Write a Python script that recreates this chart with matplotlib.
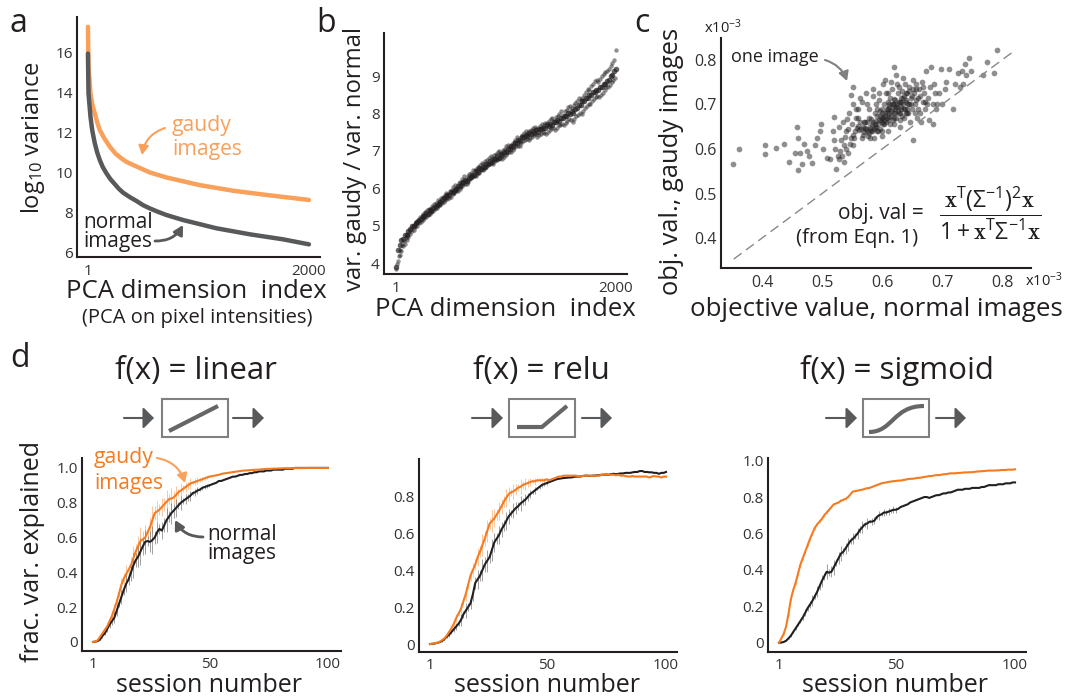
"""
Four panel figure: PCA variance curves, variance ratio, objective values
and fraction of variance explained per session.
"""
import numpy as np
import matplotlib
matplotlib.use("Agg")
import matplotlib.pyplot as plt
from matplotlib.path import Path
from matplotlib.patches import PathPatch, Rectangle

plt.rcParams['font.family'] = ['Open Sans', 'DejaVu Sans']
plt.rcParams['mathtext.default'] = 'regular'

W, H = 1065, 698
ORANGE = '#F47B20'
LIGHT_ORANGE = '#F9A05A'
DARK = '#231F20'
GRAY = '#58595B'
TEXT = '#333333'

# panel a
a_index = [1, 6, 24, 40, 63, 85, 108, 150, 199, 250, 304, 355, 410, 561, 711, 1012, 1314, 1615, 2000]
a_gaudy = [17.26, 15.27, 13.94, 13.4, 12.95, 12.5, 12.12, 11.7, 11.29, 10.95, 10.71, 10.52, 10.38,
           10.01, 9.76, 9.38, 9.10, 8.89, 8.64]
a_norm_index = [1, 6, 24, 40, 63, 85, 108, 135, 169, 205, 245, 280, 320, 380, 440, 500, 561, 630, 711,
                862, 1163, 1465, 1766, 2000]
a_normal = [15.93, 13.94, 12.78, 12.1, 11.46, 11.0, 10.63, 10.28, 9.96, 9.67, 9.42, 9.2, 9.0, 8.78, 8.59,
            8.38, 8.22, 8.06, 7.89, 7.64, 7.23, 6.93, 6.68, 6.43]

# panel b
b_ratio = [
    3.85, 3.98, 4.05, 4.18, 4.22, 4.35, 4.33, 4.48, 4.45, 4.58,
    4.52, 4.68, 4.62, 4.74, 4.70, 4.84, 4.78, 4.90, 4.86, 4.98,
    4.88, 5.05, 4.96, 5.10, 5.00, 5.16, 5.06, 5.22, 5.10, 5.24,
    5.14, 5.32, 5.20, 5.36, 5.24, 5.42, 5.28, 5.46, 5.32, 5.44,
    5.36, 5.54, 5.40, 5.58, 5.44, 5.62, 5.48, 5.68, 5.52, 5.64,
    5.56, 5.74, 5.60, 5.78, 5.64, 5.82, 5.68, 5.88, 5.72, 5.84,
    5.74, 5.92, 5.78, 5.96, 5.84, 6.04, 5.88, 6.08, 5.92, 6.02,
    5.94, 6.14, 5.98, 6.18, 6.04, 6.24, 6.08, 6.32, 6.12, 6.22,
    6.12, 6.32, 6.18, 6.38, 6.24, 6.42, 6.30, 6.48, 6.34, 6.46,
    6.32, 6.52, 6.38, 6.58, 6.42, 6.62, 6.48, 6.68, 6.50, 6.66,
    6.52, 6.72, 6.56, 6.76, 6.62, 6.82, 6.66, 6.86, 6.68, 6.80,
    6.66, 6.88, 6.72, 6.92, 6.76, 6.96, 6.78, 7.00, 6.82, 6.94,
    6.78, 7.02, 6.84, 7.06, 6.90, 7.12, 6.94, 7.16, 6.96, 7.10,
    6.96, 7.18, 7.02, 7.24, 7.08, 7.30, 7.12, 7.36, 7.14, 7.28,
    7.14, 7.38, 7.20, 7.42, 7.26, 7.48, 7.28, 7.54, 7.32, 7.46,
    7.30, 7.54, 7.34, 7.56, 7.38, 7.60, 7.42, 7.64, 7.44, 7.58,
    7.38, 7.62, 7.42, 7.66, 7.46, 7.72, 7.50, 7.68, 7.48, 7.74,
    7.46, 7.74, 7.50, 7.80, 7.56, 7.84, 7.60, 7.88, 7.62, 7.80,
    7.56, 7.90, 7.62, 7.94, 7.68, 7.98, 7.70, 8.06, 7.72, 7.96,
    7.68, 8.06, 7.74, 8.10, 7.80, 8.16, 7.84, 8.20, 7.82, 8.14,
    7.78, 8.22, 7.86, 8.28, 7.92, 8.34, 7.96, 8.40, 8.02, 8.36,
    7.98, 8.42, 8.06, 8.50, 8.14, 8.58, 8.20, 8.66, 8.26, 8.62,
    8.26, 8.74, 8.34, 8.80, 8.38, 8.86, 8.44, 8.90, 8.46, 8.84,
    8.44, 8.92, 8.50, 9.00, 8.56, 9.06, 8.64, 9.12, 8.70, 9.14,
    8.70, 9.18, 8.76, 9.26, 8.84, 9.34, 8.90, 9.42, 8.94, 9.70,
]
# the darker core of the band, one point every 16 dimensions
b_core = [
    3.90, 4.34, 4.48, 4.62, 4.64, 4.74, 4.76, 4.86, 4.90, 4.98,
    4.98, 5.08, 5.10, 5.16, 5.18, 5.26, 5.26, 5.34, 5.32, 5.42,
    5.40, 5.48, 5.50, 5.56, 5.58, 5.64, 5.68, 5.74, 5.76, 5.82,
    5.82, 5.90, 5.90, 5.96, 5.98, 6.06, 6.06, 6.14, 6.16, 6.22,
    6.20, 6.28, 6.30, 6.36, 6.36, 6.46, 6.44, 6.54, 6.52, 6.58,
    6.58, 6.64, 6.64, 6.72, 6.70, 6.78, 6.78, 6.86, 6.82, 6.92,
    6.88, 6.98, 6.98, 7.06, 7.06, 7.14, 7.14, 7.20, 7.20, 7.28,
    7.26, 7.36, 7.36, 7.42, 7.40, 7.48, 7.46, 7.52, 7.48, 7.56,
    7.50, 7.58, 7.58, 7.62, 7.62, 7.68, 7.66, 7.72, 7.70, 7.78,
    7.76, 7.82, 7.80, 7.88, 7.88, 7.94, 7.94, 8.00, 7.98, 8.06,
    8.02, 8.12, 8.14, 8.22, 8.22, 8.32, 8.34, 8.42, 8.40, 8.50,
    8.48, 8.58, 8.58, 8.64, 8.64, 8.72, 8.72, 8.80, 8.80, 8.88,
    8.90, 9.00, 9.04, 9.14, 9.20,
]

# panel c
c_normal = [
    .352, .362, .405, .405, .423, .437, .445, .455, .458, .460,
    .460, .463, .466, .470, .475, .478, .483, .488, .492, .497,
    .498, .502, .508, .514, .518, .520, .522, .524, .526, .528,
    .530, .532, .534, .536, .538, .540, .542, .544, .546, .548,
    .550, .551, .552, .554, .556, .558, .560, .562, .564, .566,
    .566, .568, .570, .572, .573, .574, .576, .578, .579, .580,
    .582, .582, .584, .585, .586, .588, .588, .590, .590, .592,
    .592, .594, .595, .596, .597, .598, .600, .600, .601, .602,
    .603, .604, .605, .606, .607, .608, .609, .610, .610, .612,
    .612, .613, .614, .615, .616, .617, .618, .618, .620, .620,
    .621, .622, .623, .624, .625, .626, .627, .628, .629, .630,
    .631, .632, .633, .634, .635, .636, .637, .638, .639, .640,
    .641, .642, .644, .645, .646, .648, .650, .651, .652, .654,
    .655, .656, .658, .660, .662, .664, .666, .668, .670, .672,
    .674, .676, .678, .680, .682, .684, .686, .688, .690, .692,
    .694, .698, .700, .704, .706, .712, .718, .722, .727, .730,
    .733, .735, .738, .740, .745, .748, .768, .775, .786, .792,
    .575, .580, .585, .590, .595, .600, .605, .610, .615, .620,
    .625, .630, .635, .640, .645, .650, .600, .610, .620, .630,
    .570, .578, .586, .594, .602, .612, .622, .632, .642, .656,
    .555, .560, .565, .568, .572, .575, .580, .584, .588, .592,
    .596, .600, .604, .608, .612, .616, .620, .624, .628, .632,
    .636, .640, .644, .648, .652, .656, .660, .664, .668, .672,
    .535, .540, .545, .548, .552, .556, .560, .564, .575, .585,
    .595, .605, .615, .625, .635, .645, .655, .665, .675, .685,
    .520, .528, .536, .544, .552, .600, .610, .620, .630, .640,
]
c_gaudy = [
    .566, .600, .588, .610, .603, .612, .570, .592, .650, .552,
    .625, .590, .566, .612, .595, .585, .568, .610, .625, .640,
    .655, .600, .580, .578, .640, .672, .600, .555, .585, .578,
    .595, .620, .585, .610, .628, .640, .668, .645, .612, .722,
    .655, .740, .632, .625, .670, .648, .690, .642, .660, .705,
    .625, .650, .638, .660, .725, .645, .630, .670, .690, .650,
    .640, .668, .655, .735, .625, .680, .650, .662, .700, .640,
    .675, .655, .710, .685, .645, .665, .690, .630, .745, .672,
    .655, .700, .680, .660, .725, .690, .670, .640, .705, .680,
    .695, .655, .715, .675, .690, .735, .665, .700, .680, .785,
    .710, .690, .765, .670, .700, .725, .685, .740, .705, .650,
    .690, .715, .675, .730, .700, .670, .720, .690, .745, .710,
    .680, .725, .700, .740, .660, .715, .690, .755, .620, .725,
    .700, .745, .670, .715, .735, .680, .750, .705, .725, .690,
    .775, .715, .665, .740, .785, .700, .745, .725, .690, .700,
    .725, .780, .700, .735, .750, .780, .690, .745, .770, .740,
    .775, .745, .790, .765, .805, .775, .765, .795, .770, .823,
    .640, .645, .660, .650, .665, .670, .675, .690, .685, .700,
    .695, .705, .715, .705, .700, .720, .680, .665, .670, .680,
    .660, .635, .645, .640, .655, .700, .680, .695, .690, .735,
    .640, .652, .645, .632, .648, .660, .625, .640, .655, .690,
    .675, .660, .665, .682, .672, .700, .712, .695, .680, .705,
    .690, .725, .680, .700, .735, .710, .690, .720, .740, .705,
    .660, .600, .680, .625, .610, .690, .670, .715, .700, .720,
    .725, .755, .750, .745, .760, .730, .680, .660, .700, .655,
    .620, .650, .570, .590, .700, .640, .725, .655, .665, .680,
]

# panel d
sessions = list(range(1, 101))
linear_normal = [
    0, .002, .005, .015, .035, .05, .075, .10, .12, .14,
    .18, .22, .26, .30, .335, .36, .40, .44, .47, .49,
    .52, .55, .575, .58, .575, .585, .60, .63, .65, .64,
    .67, .70, .72, .74, .755, .77, .785, .80, .81, .82,
    .83, .84, .855, .86, .87, .875, .885, .89, .895, .90,
    .905, .91, .915, .925, .925, .93, .935, .94, .945, .95,
    .95, .955, .96, .96, .965, .965, .97, .97, .975, .975,
    .98, .98, .98, .985, .985, .985, .99, .99, .99, .99,
    .99, .995, .995, .995, .995, 1, 1, 1, 1, 1,
    1, 1, 1, 1, 1, 1, 1, 1, 1, 1,
]
linear_gaudy = [
    0, .003, .01, .03, .05, .07, .09, .12, .15, .19,
    .23, .28, .33, .365, .39, .415, .44, .48, .52, .55,
    .58, .59, .60, .63, .66, .70, .74, .75, .76, .775,
    .79, .805, .82, .825, .83, .845, .86, .87, .88, .89,
    .90, .91, .915, .92, .925, .93, .935, .94, .945, .95,
    .952, .955, .958, .96, .965, .968, .97, .972, .974, .976,
    .978, .98, .982, .984, .985, .986, .987, .988, .989, .99,
    .99, .992, .993, .994, .995, .995, .996, .996, .997, .997,
    .998, .998, .998, .998, .999, .999, .999, .999, .999, .999,
    1, 1, 1, 1, 1, 1, 1, 1, 1, 1,
]
relu_normal = [
    0, .001, .003, .006, .01, .016, .026, .04, .05, .065,
    .08, .095, .11, .13, .16, .18, .20, .22, .27, .33,
    .35, .37, .40, .43, .45, .47, .51, .55, .57, .59,
    .62, .64, .665, .69, .705, .72, .735, .745, .76, .77,
    .78, .795, .81, .82, .83, .84, .85, .86, .865, .87,
    .875, .88, .885, .89, .893, .895, .897, .898, .90, .90,
    .902, .905, .905, .905, .908, .91, .91, .908, .91, .91,
    .912, .912, .915, .915, .916, .915, .918, .92, .918, .92,
    .922, .922, .925, .925, .925, .928, .93, .93, .935, .935,
    .93, .93, .928, .928, .925, .925, .92, .925, .925, .93,
]
relu_gaudy = [
    0, .002, .004, .007, .012, .02, .03, .045, .065, .085,
    .11, .14, .165, .19, .23, .27, .32, .37, .40, .43,
    .47, .50, .535, .57, .61, .65, .665, .68, .70, .72,
    .745, .77, .79, .81, .82, .825, .835, .845, .85, .86,
    .865, .87, .875, .88, .88, .885, .885, .885, .885, .89,
    .885, .89, .895, .90, .905, .905, .91, .91, .91, .91,
    .91, .91, .908, .905, .908, .91, .91, .91, .908, .91,
    .91, .91, .915, .915, .918, .915, .915, .915, .912, .915,
    .91, .91, .908, .905, .905, .908, .905, .905, .905, .905,
    .905, .905, .90, .905, .908, .905, .905, .90, .905, .905,
]
sigmoid_normal = [
    0, .002, .005, .012, .025, .04, .06, .08, .10, .12,
    .14, .165, .19, .21, .23, .255, .28, .31, .34, .365,
    .39, .385, .39, .415, .44, .465, .49, .50, .52, .54,
    .56, .57, .585, .60, .62, .635, .65, .655, .665, .665,
    .67, .69, .70, .705, .715, .715, .72, .725, .73, .73,
    .735, .745, .75, .755, .76, .77, .775, .78, .785, .79,
    .795, .80, .80, .795, .80, .805, .81, .81, .815, .82,
    .82, .825, .825, .83, .835, .84, .84, .84, .845, .845,
    .845, .85, .85, .85, .85, .855, .855, .86, .865, .865,
    .865, .865, .87, .87, .87, .875, .875, .875, .88, .88,
]
sigmoid_gaudy = [
    0, .025, .05, .09, .16, .24, .29, .33, .38, .43,
    .465, .50, .535, .57, .60, .63, .65, .665, .68, .70,
    .715, .73, .745, .76, .765, .77, .78, .785, .79, .80,
    .815, .83, .832, .835, .838, .84, .845, .848, .85, .855,
    .86, .865, .87, .875, .878, .88, .883, .885, .887, .888,
    .89, .89, .893, .895, .898, .90, .90, .902, .905, .905,
    .908, .91, .912, .915, .915, .918, .92, .92, .922, .925,
    .925, .928, .93, .93, .93, .932, .932, .934, .935, .935,
    .936, .936, .938, .94, .94, .942, .942, .944, .945, .945,
    .945, .946, .946, .948, .948, .948, .95, .95, .95, .952,
]
# spread of the repeats, first sessions only, later ones are too small to see
linear_spread = [
    0, 0, 0, .005, .01, .01, .015, .02, .02, .03,
    .03, .02, .04, .03, .05, .03, .05, .07, .04, .06,
    .08, .05, .07, .03, .06, .08, .04, .06, .03, .05,
    .04, .07, .03, .06, .04, .05, .02, .04, .02, .03,
    .02, .03, .01, .02, .02, .01, .01, .01, .01, .01,
]
relu_spread = [
    0, 0, 0, 0, 0, .005, .005, .01, .01, .01,
    .015, .02, .015, .03, .02, .04, .02, .03, .04, .03,
    .05, .03, .06, .04, .06, .03, .06, .05, .03, .05,
    .04, .03, .05, .04, .02, .04, .03, .02, .04, .02,
    .03, .02, .02, .01, .02, .01, .01, .01, .01, .01,
]
sigmoid_normal_spread = [
    0, 0, 0, .002, .004, .005, .005, .008, .01, .012,
    .015, .02, .015, .02, .03, .015, .03, .02, .035, .02,
    .04, .02, .03, .04, .02, .035, .04, .02, .03, .035,
    .02, .03, .015, .03, .02, .035, .015, .03, .01, .02,
    .02, .01, .025, .01, .02, .015, .02, .01, .02, .015,
]
sigmoid_gaudy_spread = [
    0, 0, .005, .005, .01, .01, .01, .012, .012, .012,
    .012, .012, .01, .01, .01, .01, .01, .01, .008, .008,
    .008, .006, .006, .006, .005, .005, .005, .005, .004, .004,
]

fig = plt.figure(figsize=(W / 100, H / 100), dpi=100)


def panel(left, top, right, bottom, xlim, ylim, xticks, yticks, ylabels, fontsize):
    """Axes placed by its pixel box, with only left and bottom spines."""
    ax = fig.add_axes([left / W, 1 - bottom / H, (right - left) / W, (bottom - top) / H])
    ax.set_xlim(*xlim)
    ax.set_ylim(*ylim)
    ax.set_xticks(xticks)
    ax.set_xticklabels([str(t) for t in xticks])
    ax.set_yticks(yticks)
    ax.set_yticklabels(ylabels)
    ax.tick_params(length=0, labelsize=fontsize, labelcolor=TEXT)
    ax.tick_params(axis='x', pad=5)
    ax.tick_params(axis='y', pad=3)
    ax.spines['top'].set_visible(False)
    ax.spines['right'].set_visible(False)
    for side in ['left', 'bottom']:
        ax.spines[side].set_linewidth(1.5)
        ax.spines[side].set_color(DARK)
    ax.patch.set_alpha(0)
    return ax


# panel a
ax_a = panel(77, 17, 320, 257, (-98, 2100), (5.8, 17.75), [1, 2000],
             [6, 8, 10, 12, 14, 16], ['6', '8', '10', '12', '14', '16'], 11)
ax_a.plot(a_index, a_gaudy, color=LIGHT_ORANGE, lw=3.2, solid_capstyle='round')
ax_a.plot(a_norm_index, a_normal, color=GRAY, lw=3.2, solid_capstyle='round')

# panel b
ax_b = panel(384, 33, 627, 274, (-108, 2100), (3.71, 10.15), [1, 2000],
             [4, 5, 6, 7, 8, 9], ['4', '5', '6', '7', '8', '9'], 11)
ax_b.scatter(np.linspace(1, 2000, len(b_ratio)), b_ratio, s=10, color=DARK, alpha=0.5, linewidths=0)
ax_b.scatter(np.linspace(1, 2000, len(b_core)), b_core, s=16, color=DARK, alpha=0.7, linewidths=0)

# panel c
ax_c = panel(720.5, 38, 1031, 268, (.331, .848), (.333, .849), [.4, .5, .6, .7, .8],
             [.4, .5, .6, .7, .8], ['0.4', '0.5', '0.6', '0.7', '0.8'], 11.5)
ax_c.plot([.353, .823], [.353, .823], color='#888888', lw=1, dashes=(7, 4))
ax_c.scatter(c_normal, c_gaudy, s=17, color=DARK, alpha=0.5, linewidths=0)

# panel d
curves = [
    ((82, 458, 341, 651), (-3.63, 105.5), (-.052, 1.057), [0, .2, .4, .6, .8, 1.0],
     ['0', '0.2', '0.4', '0.6', '0.8', '1.0'], linear_normal, linear_gaudy, linear_spread, linear_spread),
    ((419, 459, 677, 652), (-3.6, 104.6), (-.043, 1.0), [0, .2, .4, .6, .8],
     ['0', '0.2', '0.4', '0.6', '0.8'], relu_normal, relu_gaudy, relu_spread, relu_spread),
    ((768, 458, 1026, 652), (-3.6, 104.6), (-.05, 1.014), [0, .2, .4, .6, .8, 1.0],
     ['0', '0.2', '0.4', '0.6', '0.8', '1.0'], sigmoid_normal, sigmoid_gaudy,
     sigmoid_normal_spread, sigmoid_gaudy_spread),
]
for box, xlim, ylim, yticks, ylabels, normal, gaudy, spread_n, spread_g in curves:
    ax = panel(*box, xlim, ylim, [1, 50, 100], yticks, ylabels, 11)
    ax.tick_params(axis='x', pad=4)
    n_val = np.array(normal[:len(spread_n)])
    g_val = np.array(gaudy[:len(spread_g)])
    n_err = np.array(spread_n)
    g_err = np.array(spread_g)
    ax.vlines(sessions[:len(spread_g)], g_val - g_err, g_val + g_err, color=LIGHT_ORANGE, lw=0.7, alpha=0.6)
    ax.vlines(sessions[:len(spread_n)], n_val - n_err, n_val + n_err, color='#777777', lw=0.7, alpha=0.7)
    ax.plot(sessions, normal, color=DARK, lw=1.5)
    ax.plot(sessions, gaudy, color=ORANGE, lw=1.5)

# everything else is drawn on a pixel sized overlay
ov = fig.add_axes([0, 0, 1, 1], zorder=5)
ov.set_xlim(0, W)
ov.set_ylim(H, 0)
ov.axis('off')


def label(x, y, text, size, color=DARK, rotation=0, ha='center', va='center', **kw):
    ov.text(x, y, text, fontsize=size, color=color, rotation=rotation, ha=ha, va=va, **kw)


def arrow(start, end, color, rad=0.0, lw=1.5):
    ov.annotate('', xy=end, xytext=start,
                arrowprops=dict(arrowstyle='-|>,head_length=0.55,head_width=0.3', color=color, lw=lw,
                                shrinkA=0, shrinkB=0, connectionstyle=f'arc3,rad={rad}'))


for x, y, letter in [(18, 32, 'a'), (326, 32, 'b'), (642, 32, 'c'), (20, 367, 'd')]:
    label(x, y, letter, 23, va='baseline')

label(196, 292, 'PCA dimension  index', 18.5)
label(197, 318, '(PCA on pixel intensities)', 14.5)
label(33, 138, 'log$_{10}$ variance', 17, rotation=90)
label(505, 310, 'PCA dimension  index', 18.5)
label(355, 159, 'var. gaudy / var. normal', 17.2, rotation=90)
label(876, 310, 'objective value, normal images', 18.6)
label(672, 161, 'obj. val., gaudy images', 18.4, rotation=90)
label(723, 28, 'x10$^{-3}$', 10.5)
label(1044, 281, 'x10$^{-3}$', 10.5)

label(172, 126, 'gaudy', 15.2, color=LIGHT_ORANGE, ha='left')
label(172, 150, 'images', 15.2, color=LIGHT_ORANGE, ha='left')
arrow((165, 128), (142, 155), LIGHT_ORANGE, rad=0.3)
label(83, 223, 'normal', 15, ha='left')
label(83, 242, 'images', 15, ha='left')
arrow((155, 241), (183, 225), GRAY, rad=0.3, lw=2)

label(775, 57, 'one image', 13)
arrow((825, 60), (847, 81), '#808080', rad=-0.25)
label(924, 213, 'obj. val =', 15, ha='right')
label(857, 238, '(from Eqn. 1)', 14.7)
label(990, 213, r'$\dfrac{\mathbf{x}^T(\Sigma^{-1})^2\mathbf{x}}{1+\mathbf{x}^T\Sigma^{-1}\mathbf{x}}$',
      16.5, math_fontfamily='cm')

label(196, 379, 'f(x) = linear', 22.5, va='baseline')
label(541, 379, 'f(x) = relu', 22.5, va='baseline')
label(897, 379, 'f(x) = sigmoid', 22.5, va='baseline')
label(209, 692, 'session number', 18, va='baseline')
label(547, 692, 'session number', 18, va='baseline')
label(895, 692, 'session number', 18, va='baseline')
label(33, 552, 'frac. var. explained', 18, rotation=90)

label(94, 458, 'gaudy', 15.2, color=ORANGE, ha='left')
label(94, 483, 'images', 15, color=ORANGE, ha='left')
arrow((157, 458), (185, 483), LIGHT_ORANGE, rad=-0.3)
label(207, 534, 'normal', 15, ha='left')
label(207, 553, 'images', 15, ha='left')
arrow((203, 537), (175, 520), GRAY, rad=-0.3, lw=2)

# small function schematics above each session plot
for left, (in_a, in_b), (out_a, out_b) in [(162, (124, 154), (233, 264)),
                                           (509, (472, 503), (582, 612)),
                                           (863, (826, 857), (936, 966))]:
    ov.add_patch(Rectangle((left, 399), 66, 38, fill=False, edgecolor='#808080', lw=1.5))
    for start, end in [(in_a, in_b), (out_a, out_b)]:
        ov.annotate('', xy=(end, 418), xytext=(start, 418),
                    arrowprops=dict(arrowstyle='-|>,head_length=0.65,head_width=0.65', color=GRAY, lw=1.5,
                                    shrinkA=0, shrinkB=0))
ov.plot([169, 218], [431, 406], color='#666666', lw=3, solid_capstyle='butt')
ov.plot([517, 542, 567], [427, 427, 406], color='#666666', lw=3, solid_capstyle='butt')
s_curve = Path([(869, 432), (893, 432), (893, 406), (924, 406)],
               [Path.MOVETO, Path.CURVE4, Path.CURVE4, Path.CURVE4])
ov.add_patch(PathPatch(s_curve, fill=False, edgecolor='#666666', lw=3, capstyle='butt'))

fig.savefig('out.png', dpi=100)
